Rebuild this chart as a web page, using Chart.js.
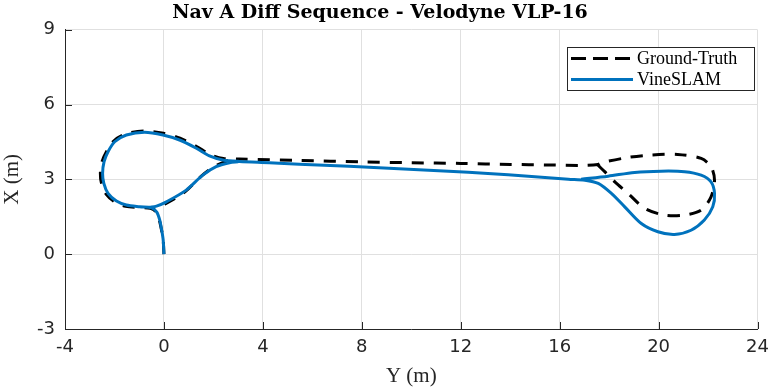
<!DOCTYPE html>
<html>
<head>
<meta charset="utf-8">
<script src="https://cdn.jsdelivr.net/npm/chart.js@4.4.1/dist/chart.umd.min.js"></script>
<style>
  html, body { margin: 0; padding: 0; background: #ffffff; }
  #wrap { width: 777px; height: 391px; position: relative; }
</style>
</head>
<body>
<div id="wrap"><canvas id="c" width="777" height="391"></canvas></div>
<script>
// ---- Data (horizontal axis = "Y (m)", vertical axis = "X (m)"); null = break in the path ----
const xTicks = [-4, 0, 4, 8, 12, 16, 20, 24];
const yTicks = [-3, 0, 3, 6, 9];

const gtY = [0, -0.03, -0.10, -0.19, -0.32, -0.55, -1.00, -1.55, -1.97, -2.33, -2.52, -2.57, -2.50, -2.31, -2.02, -1.52, -0.78, -0.02, 0.65, 1.32, 1.86, 2.40, 3.05, 5.47, 8.00, 10.00, 12.00, 14.00, 15.50, 16.90, 17.55, 17.69, 18.76, 19.70, 20.77, 21.72, 22.12, 22.26, 22.12, 21.72, 21.05, 20.24, 19.44, 18.76, 18.23, 17.82, 17.55,
  null,
  2.60, 2.05, 1.50, 0.85, 0.05, -0.30, -0.60];
const gtX = [0, 0.56, 0.98, 1.38, 1.70, 1.84, 1.87, 1.92, 2.08, 2.40, 2.82, 3.25, 3.72, 4.14, 4.55, 4.83, 4.94, 4.85, 4.65, 4.32, 4.00, 3.84, 3.82, 3.76, 3.70, 3.67, 3.64, 3.60, 3.58, 3.56, 3.60, 3.67, 3.88, 3.98, 4.00, 3.84, 3.51, 2.97, 2.30, 1.77, 1.57, 1.57, 1.84, 2.44, 2.90, 3.31, 3.57,
  null,
  3.76, 3.52, 3.12, 2.50, 2.02, 1.90, 1.85];

const slamY = [0, -0.03, -0.09, -0.17, -0.29, -0.50, -0.98, -1.52, -1.92, -2.26, -2.43, -2.48, -2.42, -2.26, -1.99, -1.52, -0.78, -0.04, 0.63, 1.31, 1.84, 2.38, 3.05, 4.26, 5.47, 7.48, 9.50, 11.51, 13.10, 14.73, 16.35, 17.02, 17.56, 18.09, 18.63, 19.30, 19.97, 20.64, 21.31, 21.85, 22.19, 22.26, 22.12, 21.72, 21.05, 20.10, 19.03, 17.96, 16.87,
  null,
  3.00, 2.65, 2.11, 1.57, 0.90, 0.10, -0.30, -0.58];
const slamX = [0, 0.56, 0.96, 1.37, 1.69, 1.86, 1.90, 1.97, 2.13, 2.44, 2.84, 3.24, 3.71, 4.11, 4.51, 4.78, 4.89, 4.78, 4.58, 4.25, 3.94, 3.78, 3.72, 3.67, 3.61, 3.53, 3.43, 3.33, 3.24, 3.13, 3.01, 2.97, 2.84, 2.44, 1.90, 1.23, 0.90, 0.79, 0.96, 1.37, 1.90, 2.44, 2.90, 3.17, 3.31, 3.33, 3.28, 3.13, 3.01,
  null,
  3.71, 3.67, 3.51, 3.17, 2.57, 2.10, 1.93, 1.88];

const seriesNames = ['Ground-Truth', 'VineSLAM'];

function toPoints(hs, vs) {
  return hs.map((h, i) => (h === null ? { x: null, y: null } : { x: h, y: vs[i] }));
}

const AXIS_COLOR = '#262626';
const GRID_COLOR = '#e0e0e0';
const BLUE = '#0072BD';

// Inward tick marks (MATLAB style)
const innerTicks = {
  id: 'innerTicks',
  afterDraw(chart) {
    const { ctx, chartArea, scales } = chart;
    ctx.save();
    ctx.strokeStyle = AXIS_COLOR;
    ctx.lineWidth = 1;
    ctx.beginPath();
    xTicks.forEach(v => {
      const px = Math.round(scales.x.getPixelForValue(v)) + 0.5;
      ctx.moveTo(px, chartArea.bottom);
      ctx.lineTo(px, chartArea.bottom - 7);
    });
    yTicks.forEach(v => {
      const py = Math.round(scales.y.getPixelForValue(v)) + 0.5;
      ctx.moveTo(chartArea.left, py);
      ctx.lineTo(chartArea.left + 7, py);
    });
    ctx.stroke();
    ctx.restore();
  }
};

// Boxed legend inside the plot (top-right)
const boxLegend = {
  id: 'boxLegend',
  afterDraw(chart) {
    const { ctx } = chart;
    const bx = 567.5, by = 47.5, bw = 187, bh = 43;
    ctx.save();
    ctx.fillStyle = '#ffffff';
    ctx.fillRect(bx, by, bw, bh);
    ctx.strokeStyle = AXIS_COLOR;
    ctx.lineWidth = 1;
    ctx.strokeRect(bx, by, bw, bh);
    const rows = [
      { y: 58.5, color: '#000000', dash: [15, 7] },
      { y: 79.5, color: BLUE, dash: [] }
    ];
    rows.forEach((r, i) => {
      ctx.beginPath();
      ctx.setLineDash(r.dash);
      ctx.strokeStyle = r.color;
      ctx.lineWidth = 3;
      ctx.moveTo(571, r.y);
      ctx.lineTo(633, r.y);
      ctx.stroke();
      ctx.setLineDash([]);
      ctx.fillStyle = '#000000';
      ctx.font = '18px "Liberation Serif"';
      ctx.textBaseline = 'middle';
      ctx.textAlign = 'left';
      ctx.fillText(seriesNames[i], 637, r.y + 1);
    });
    ctx.restore();
  }
};

new Chart(document.getElementById('c'), {
  type: 'scatter',
  data: {
    datasets: [
      {
        label: seriesNames[0],
        data: toPoints(gtY, gtX),
        showLine: true,
        borderColor: '#000000',
        borderWidth: 3,
        borderDash: [12, 10],
        pointRadius: 0,
        tension: 0.3,
        spanGaps: false,
        order: 2
      },
      {
        label: seriesNames[1],
        data: toPoints(slamY, slamX),
        showLine: true,
        borderColor: BLUE,
        borderWidth: 3,
        pointRadius: 0,
        tension: 0.3,
        spanGaps: false,
        order: 1
      }
    ]
  },
  options: {
    responsive: false,
    animation: false,
    devicePixelRatio: 1,
    layout: { padding: { left: 0, right: 17, top: 0, bottom: 0 } },
    plugins: {
      legend: { display: false },
      tooltip: { enabled: false },
      title: {
        display: true,
        text: 'Nav A Diff Sequence - Velodyne VLP-16',
        color: '#000000',
        font: { family: '"DejaVu Serif"', weight: 'bold', size: 19 },
        padding: { top: 2, bottom: 5 }
      }
    },
    scales: {
      x: {
        type: 'linear',
        min: -4, max: 24,
        afterFit(s) { s.height = 62; },
        afterBuildTicks(s) { s.ticks = xTicks.map(v => ({ value: v })); },
        ticks: { color: AXIS_COLOR, font: { family: '"DejaVu Sans"', size: 18 }, padding: 8, maxRotation: 0 },
        grid: { color: GRID_COLOR, drawTicks: false, lineWidth: 1 },
        border: { color: AXIS_COLOR, width: 1 },
        title: {
          display: true, text: 'Y (m)', color: AXIS_COLOR,
          font: { family: '"Liberation Serif"', size: 21 },
          padding: { top: 0, bottom: 2 }
        }
      },
      y: {
        type: 'linear',
        min: -3, max: 9,
        afterFit(s) { s.width = 65; },
        afterBuildTicks(s) { s.ticks = yTicks.map(v => ({ value: v })); },
        ticks: { color: AXIS_COLOR, font: { family: '"DejaVu Sans"', size: 18 }, padding: 10 },
        grid: { color: GRID_COLOR, drawTicks: false, lineWidth: 1 },
        border: { color: AXIS_COLOR, width: 1 },
        title: {
          display: true, text: 'X (m)', color: AXIS_COLOR,
          font: { family: '"Liberation Serif"', size: 21 },
          padding: { top: 0, bottom: 0 }
        }
      }
    }
  },
  plugins: [innerTicks, boxLegend]
});
</script>
</body>
</html>
